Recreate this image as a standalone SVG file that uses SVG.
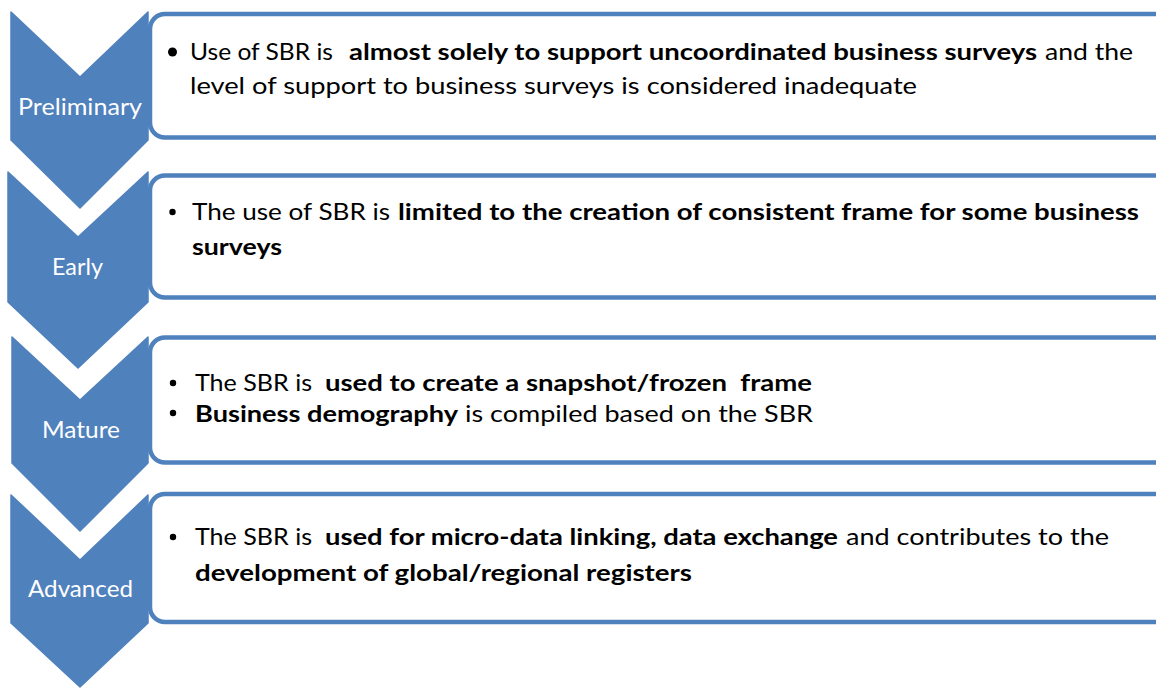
<svg xmlns="http://www.w3.org/2000/svg" width="1156" height="688" viewBox="0 0 1156 688">
<style>
.box{fill:#ffffff;stroke:#4F81BD;stroke-width:4.5}
.chev{fill:#4F81BD;stroke:#4F81BD;stroke-width:1.5;stroke-linejoin:round}
.lbl{font-family:Lato,"Open Sans","Liberation Sans",sans-serif;font-size:22.5px;fill:#ffffff}
.t{font-family:Lato,"Open Sans","Liberation Sans",sans-serif;font-size:23px;fill:#000000}
.b{font-weight:bold}
.dot{fill:#000000}
</style>
<rect width="1156" height="688" fill="#ffffff"/>
<g id="stage-preliminary">
  <rect class="box" x="150" y="14" width="1020" height="123.5" rx="15"/>
  <polygon class="chev" points="11,12 80,77 148,12 148,140 80,208 11,140"/>
  <text class="lbl" x="18" y="115" textLength="124" lengthAdjust="spacingAndGlyphs">Preliminary</text>
  <circle class="dot" cx="172.5" cy="52" r="4.5"/>
  <text class="t" x="190" y="60" textLength="143" lengthAdjust="spacingAndGlyphs">Use of SBR is</text>
  <text class="t b" x="349" y="60" textLength="688" lengthAdjust="spacingAndGlyphs">almost solely to support uncoordinated business surveys</text>
  <text class="t" x="1045" y="60" textLength="88" lengthAdjust="spacingAndGlyphs">and the</text>
  <text class="t" x="190" y="94" textLength="727" lengthAdjust="spacingAndGlyphs">level of support to business surveys is considered inadequate</text>
</g>
<g id="stage-early">
  <rect class="box" x="150" y="175.5" width="1020" height="122" rx="15"/>
  <polygon class="chev" points="8,172 78,237 148,172 148,302 78,368 8,302"/>
  <text class="lbl" x="52" y="275" textLength="51" lengthAdjust="spacingAndGlyphs">Early</text>
  <circle class="dot" cx="172.5" cy="212" r="3.2"/>
  <text class="t" x="192" y="220" textLength="198" lengthAdjust="spacingAndGlyphs">The use of SBR is</text>
  <text class="t b" x="398" y="220" textLength="741" lengthAdjust="spacingAndGlyphs">limited to the creation of consistent frame for some business</text>
  <text class="t b" x="192" y="255" textLength="90" lengthAdjust="spacingAndGlyphs">surveys</text>
</g>
<g id="stage-mature">
  <rect class="box" x="150" y="337.5" width="1020" height="125" rx="15"/>
  <polygon class="chev" points="12,337 80,400 148,337 148,463 80,531 12,463"/>
  <text class="lbl" x="42" y="438" textLength="78" lengthAdjust="spacingAndGlyphs">Mature</text>
  <circle class="dot" cx="173" cy="383" r="3.2"/>
  <text class="t" x="195" y="391" textLength="117" lengthAdjust="spacingAndGlyphs">The SBR is</text>
  <text class="t b" x="325" y="391" textLength="487" lengthAdjust="spacingAndGlyphs" xml:space="preserve" style="white-space:pre">used to create a snapshot/frozen  frame</text>
  <circle class="dot" cx="173" cy="413" r="3.2"/>
  <text class="t b" x="195" y="422" textLength="263" lengthAdjust="spacingAndGlyphs">Business demography</text>
  <text class="t" x="465" y="422" textLength="348" lengthAdjust="spacingAndGlyphs">is compiled based on the SBR</text>
</g>
<g id="stage-advanced">
  <rect class="box" x="150" y="494" width="1020" height="128" rx="15"/>
  <polygon class="chev" points="11,495 80,560 148,495 148,623 80,687 11,623"/>
  <text class="lbl" x="28" y="597" textLength="105" lengthAdjust="spacingAndGlyphs">Advanced</text>
  <circle class="dot" cx="173" cy="537" r="3.2"/>
  <text class="t" x="195" y="545" textLength="117" lengthAdjust="spacingAndGlyphs">The SBR is</text>
  <text class="t b" x="325" y="545" textLength="513" lengthAdjust="spacingAndGlyphs">used for micro-data linking, data exchange</text>
  <text class="t" x="846" y="545" textLength="263" lengthAdjust="spacingAndGlyphs">and contributes to the</text>
  <text class="t b" x="195" y="581" textLength="497" lengthAdjust="spacingAndGlyphs">development of global/regional registers</text>
</g>
<g id="connectors"></g>
</svg>
